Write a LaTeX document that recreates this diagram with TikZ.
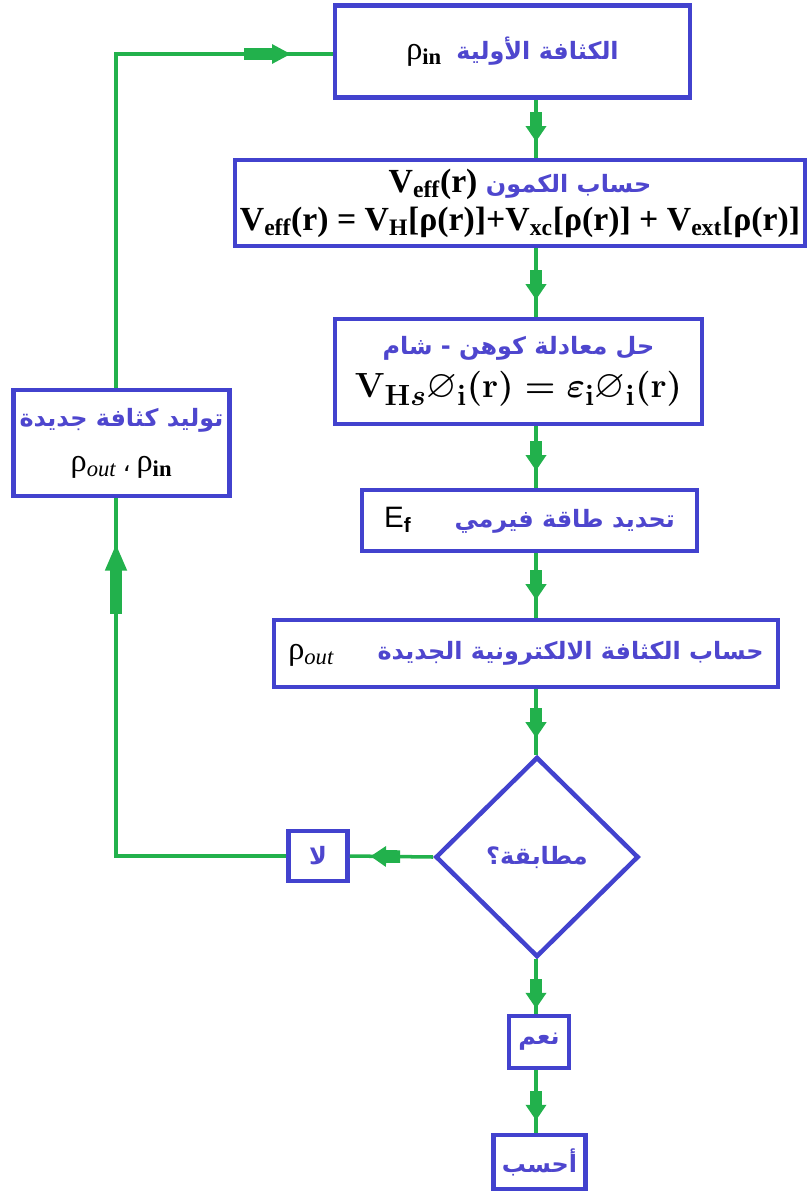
\documentclass[tikz,border=0pt]{standalone}
\usepackage{amsmath}
\usepackage{amssymb}
\usepackage{fontspec}
\setmainfont{Liberation Serif}
\newfontfamily\arabicfont[Script=Arabic]{DejaVu Sans}
\newfontfamily\arialfont{Liberation Sans}
\TeXXeTstate=1
\usetikzlibrary{shapes.geometric, positioning, decorations.markings}
\definecolor{boxBlue}{RGB}{66,66,206}
\definecolor{textBlue}{RGB}{78,70,206}
\definecolor{lineGreen}{RGB}{34,177,76}
\newcommand{\arab}[1]{{\arabicfont\bfseries\color{textBlue}\beginR #1\endR}}
\newcommand{\rhosub}[1]{{\fontsize{23}{26}\selectfont ρ\textsubscript{#1}}}

\begin{document}
\begin{tikzpicture}[
  x=0.025cm, y=-0.025cm,
  blok/.style={draw=boxBlue, line width=3.2pt, fill=white, inner sep=1pt, align=center, font=\fontsize{17}{20}\selectfont},
  cek/.style={blok, shape=diamond, inner sep=0pt},
  conn/.style={draw=lineGreen, line width=2.5pt},
  midarr/.style={postaction={decorate, decoration={markings, mark=at position #1 with {
    \fill[lineGreen] (-21pt,-4.5pt) rectangle (-10pt,4.5pt);
    \fill[lineGreen] (-11pt,7.5pt) -- (0,0) -- (-11pt,-7.5pt) -- cycle;}}}},
  sidearr/.style={postaction={decorate, decoration={markings, mark=at position #1 with {
    \fill[lineGreen] (-33pt,-4.5pt) rectangle (-12pt,4.5pt);
    \fill[lineGreen] (-13pt,7pt) -- (0,0) -- (-13pt,-7pt) -- cycle;}}}},
  longarr/.style={postaction={decorate, decoration={markings, mark=at position #1 with {
    \fill[lineGreen] (-49pt,-4.6pt) rectangle (-18pt,4.6pt);
    \fill[lineGreen] (-18.5pt,8pt) -- (0,0) -- (-18.5pt,-8pt) -- cycle;}}}},
]
  \useasboundingbox (0,0) rectangle (808,1191);

  \node[blok, minimum width=8.875cm, minimum height=2.3cm] at (512.5,51.5) (b1)
    {\rhosub{\textbf{in}}\hspace{0.6em}\arab{الكثافة الأولية}};
  \node[blok, minimum width=14.25cm, minimum height=2.15cm, font=\fontsize{24}{27}\selectfont\bfseries] at (520,203) (b2)
    {V\textsubscript{eff}(r) \arab{\fontsize{17}{20}\selectfont حساب الكمون}\\
     V\textsubscript{eff}(r) = V\textsubscript{H}[ρ(r)]+V\textsubscript{xc}[ρ(r)] + V\textsubscript{ext}[ρ(r)]};
  \node[blok, minimum width=9.175cm, minimum height=2.625cm, inner sep=0pt] at (518.5,371.5) (b3)
    {\arab{حل معادلة كوهن - شام}\\[7pt]
     {\fontsize{28}{30}\selectfont\boldmath$\mathbf{V}_{\mathbf{H}\boldsymbol{s}}\varnothing_{\mathbf{i}}(\mathbf{r}) = \boldsymbol{\varepsilon}_{\mathbf{i}}\varnothing_{\mathbf{i}}(\mathbf{r})$}};
  \node[blok, minimum width=5.4cm, minimum height=2.65cm] at (121.5,443) (b4)
    {\arab{توليد كثافة جديدة}\\[12pt]
     \rhosub{\textit{out}} {\arabicfont ،} \rhosub{\textbf{in}}};
  \node[blok, minimum width=8.375cm, minimum height=1.525cm] at (529.5,520.5) (b5)
    {{\arialfont\fontsize{21}{23}\selectfont E\textsubscript{\textbf{f}}}\hspace{1.8em}\arab{تحديد طاقة فيرمي}};
  \node[blok, minimum width=12.6cm, minimum height=1.675cm] at (526,653.5) (b6)
    {\rhosub{\textit{out}}\hspace{1.8em}\arab{حساب الكثافة الالكترونية الجديدة}};
  \node[cek, minimum width=5.075cm, minimum height=5cm] at (537,857) (dec) {\arab{مطابقة؟}};
  \node[blok, minimum width=1.475cm, minimum height=1.25cm] at (318,856) (no) {\arab{لا}};
  \node[blok, minimum width=1.5cm, minimum height=1.3cm] at (539,1042) (yes) {\arab{نعم}};
  \node[blok, minimum width=2.3cm, minimum height=1.35cm] at (539.5,1162) (calc) {\arab{أحسب}};

  \coordinate (spine) at (536,0);
  \coordinate (loopx) at (116,54);

  \draw[conn, midarr=0.72] (b1.south -| spine) -- (b2.north -| spine);
  \draw[conn, midarr=0.75] (b2.south -| spine) -- (b3.north -| spine);
  \draw[conn, midarr=0.72] (b3.south -| spine) -- (b5.north -| spine);
  \draw[conn, midarr=0.72] (b5.south -| spine) -- (b6.north -| spine);
  \draw[conn, midarr=0.74] (b6.south -| spine) -- (dec.north -| spine);
  \draw[conn, midarr=0.9] (dec.south -| spine) -- (yes.north -| spine);
  \draw[conn, midarr=0.8] (yes.south -| spine) -- (calc.north -| spine);
  \draw[conn, midarr=0.75] (dec.west) -- (no.east);
  \draw[conn, longarr=-33pt] (no.west) -| (b4.south -| loopx);
  \draw[conn, sidearr=-30pt] (b4.north -| loopx) |- (b1.west |- loopx);
\end{tikzpicture}
\end{document}
